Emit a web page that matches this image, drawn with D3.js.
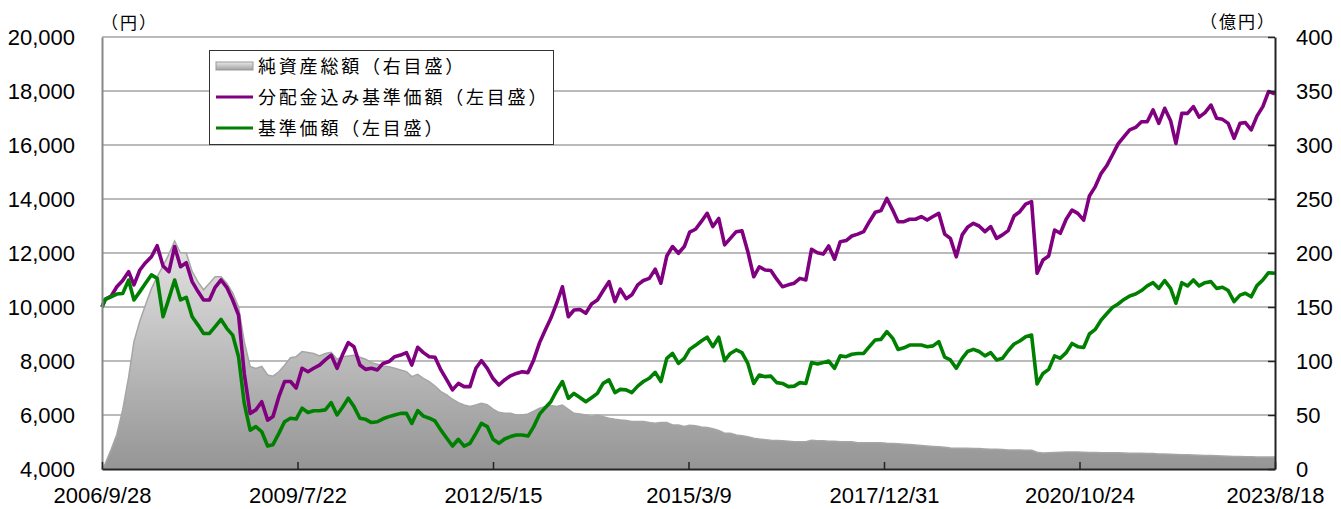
<!DOCTYPE html>
<meta charset="utf-8">
<head>
<style>
  body { margin: 0; background: #fff; }
  .num { font-family: "Liberation Sans", Arial, sans-serif; font-size: 22px; fill: #000; }
  .jp { font-family: "Noto Sans CJK JP", sans-serif; fill: #000; }
</style>
</head>
<body>
<div id="chart"></div>
<script src="https://d3js.org/d3.v7.min.js"></script>
<script>
// first and last day of the series; in between one reading per month (mid-month)
const startDate = "2006-09-28";
const endDate = "2023-08-18";

// 分配金込み基準価額 (円), rows = years
const navAdj = [
  10000, 10280, 10400, 10750,
  10980, 11310, 10820, 11370, 11640, 11860, 12270, 11520, 11310, 12240, 11490, 11640,
  10940, 10570, 10260, 10260, 10730, 11000, 10730, 10260, 9700, 7540, 6060, 6190,
  6490, 5810, 5940, 6680, 7240, 7240, 7000, 7730, 7600, 7730, 7850, 8040,
  8220, 7730, 8220, 8680, 8530, 7850, 7690, 7730, 7670, 7910, 7980, 8160,
  8220, 8310, 7850, 8510, 8310, 8160, 8140, 7670, 7300, 6930, 7170, 7050,
  7050, 7730, 8010, 7730, 7350, 7110, 7300, 7450, 7540, 7600, 7570, 8040,
  8680, 9170, 9580, 10140, 10750, 9640, 9890, 9910, 9770, 10110, 10260, 10600,
  10940, 10200, 10660, 10310, 10450, 10820, 10980, 11060, 11400, 10880, 11890, 12240,
  11990, 12240, 12770, 12880, 13160, 13470, 12980, 13280, 12300, 12540, 12790, 12820,
  12050, 11120, 11490, 11370, 11350, 11030, 10750, 10820, 10880, 11060, 11000, 12140,
  12010, 11960, 12260, 11770, 12420, 12460, 12630, 12700, 12790, 13160, 13510, 13570,
  14020, 13590, 13160, 13160, 13250, 13250, 13350, 13220, 13350, 13470, 12700, 12540,
  11860, 12670, 12950, 13100, 13000, 12790, 12980, 12540, 12670, 12830, 13370, 13530,
  13810, 13900, 11250, 11740, 11890, 12850, 12730, 13250, 13590, 13470, 13220, 14110,
  14460, 14950, 15220, 15630, 16040, 16310, 16560, 16650, 16860, 16860, 17300, 16800,
  17360, 16900, 16060, 17170, 17170, 17420, 17030, 17200, 17480, 16990, 16950, 16800,
  16250, 16800, 16830, 16560, 17070, 17420, 17980, 17900
];

// 基準価額 (円)
const nav = [
  10000, 10280, 10380, 10480,
  10500, 11000, 10260, 10570, 10880, 11190, 11060, 9640, 10320, 11000, 10260, 10360,
  9640, 9330, 9020, 9020, 9270, 9540, 9210, 8960, 8160, 6430, 5440, 5570,
  5380, 4850, 4900, 5320, 5750, 5880, 5850, 6250, 6090, 6160, 6160, 6190,
  6460, 6000, 6280, 6620, 6310, 5880, 5840, 5720, 5750, 5860, 5940, 6000,
  6060, 6060, 5690, 6160, 5960, 5880, 5780, 5440, 5140, 4850, 5100, 4850,
  4950, 5320, 5690, 5570, 5100, 4950, 5110, 5200, 5260, 5260, 5220, 5570,
  6030, 6280, 6490, 6900, 7240, 6620, 6800, 6650, 6490, 6640, 6800, 7170,
  7300, 6830, 6950, 6930, 6830, 7070, 7240, 7360, 7580, 7240, 8100, 8280,
  7910, 8100, 8430, 8580, 8740, 8880, 8530, 8880, 8010, 8280, 8410, 8310,
  7910, 7170, 7480, 7420, 7440, 7200, 7170, 7050, 7070, 7200, 7170, 7940,
  7890, 7940, 8000, 7730, 8190, 8160, 8250, 8280, 8280, 8530, 8780, 8800,
  9090, 8840, 8430, 8490, 8590, 8590, 8590, 8530, 8560, 8720, 8140, 8040,
  7730, 8100, 8350, 8430, 8350, 8190, 8310, 8040, 8100, 8380, 8630, 8740,
  8900, 8960, 7150, 7540, 7690, 8190, 8100, 8310, 8650, 8530, 8500, 9000,
  9170, 9520, 9740, 9980, 10110, 10280, 10410, 10480, 10610, 10780, 10900, 10690,
  10980, 10690, 10140, 10900, 10780, 11000, 10780, 10900, 10940, 10690, 10730, 10610,
  10200, 10440, 10510, 10380, 10790, 11000, 11270, 11250
];

// 純資産総額 (億円)
const assets = [
  0, 5, 18, 32,
  55, 85, 118, 137, 152, 167, 178, 188, 199, 211, 200, 200,
  183, 173, 166, 172, 178, 178, 172, 163, 150, 118, 95, 93,
  95, 87, 86, 90, 96, 103, 104, 108.7, 107.8, 107, 104.7, 107,
  108, 101.6, 104, 104.7, 105.3, 103.4, 101.6, 98.5, 97, 95.4, 94.8, 93.3,
  91.7, 90.2, 85.5, 87.7, 84, 80.9, 76.9, 71.7, 68.6, 64.6, 61.5, 59.3,
  57.8, 59.3, 60.9, 59.6, 55.5, 52.5, 51.6, 51.6, 50, 50, 51, 53.5,
  56.2, 57.8, 58.7, 57.8, 59.3, 55.3, 51.6, 51, 50, 48.5, 50, 48.5,
  47, 46, 45.4, 44.8, 43.9, 43.9, 43.9, 43, 42.4, 43, 43, 40.8,
  40.8, 39.3, 40.4, 40, 39, 38.5, 37.3, 35.6, 33.1, 33.1, 31.5, 30.9,
  29.9, 28.4, 27.7, 27.2, 26.7, 26.5, 26.1, 25.8, 25.3, 25.3, 25.3, 26.7,
  26.1, 26.1, 25.8, 25.8, 25.3, 25.3, 25.3, 24.4, 24.4, 24.4, 24.4, 24.4,
  23.8, 23.6, 23.3, 23.0, 22.6, 22.3, 21.8, 21.3, 20.9, 20.6, 20.2, 19.5,
  19.2, 19.2, 19.2, 19.0, 18.9, 18.6, 18.4, 18.3, 18.0, 17.7, 17.7, 17.5,
  17.4, 17.3, 15.5, 14.8, 15.0, 15.3, 15.5, 15.7, 15.8, 15.8, 15.5, 15.3,
  15.2, 15.1, 15.0, 15.0, 15.0, 14.8, 14.6, 14.5, 14.5, 14.3, 14.3, 14.0,
  13.8, 13.6, 13.5, 13.3, 13.1, 13.0, 12.8, 12.6, 12.4, 12.2, 12.0, 11.8,
  11.6, 11.5, 11.4, 11.3, 11.2, 11.1, 11.0, 11.0
];

const xTickLabels = ["2006/9/28", "2009/7/22", "2012/5/15", "2015/3/9", "2017/12/31", "2020/10/24", "2023/8/18"];
const yLeftTicks = [4000, 6000, 8000, 10000, 12000, 14000, 16000, 18000, 20000];
const yRightTicks = [0, 50, 100, 150, 200, 250, 300, 350, 400];
const legendNames = ["純資産総額（右目盛）", "分配金込み基準価額（左目盛）", "基準価額（左目盛）"];

const parse = d3.timeParse("%Y-%m-%d");
const parseTick = d3.timeParse("%Y/%m/%d");

const dates = [parse(startDate)]
  .concat(d3.timeMonth.range(parse("2006-10-01"), parse("2023-08-01")).map(d => d3.timeDay.offset(d, 14)))
  .concat([parse(endDate)]);

const data = dates.map((d, i) => ({date: d, adj: navAdj[i], nav: nav[i], aum: assets[i]}));

const W = 1341, H = 509;
const plotL = 102, plotR = 1275, plotT = 37, plotB = 469;

const svg = d3.select("#chart").append("svg")
  .attr("width", W).attr("height", H);

const defs = svg.append("defs");
const grad = defs.append("linearGradient")
  .attr("id", "aumFill")
  .attr("gradientUnits", "userSpaceOnUse")
  .attr("x1", 0).attr("x2", 0).attr("y1", 240).attr("y2", plotB);
grad.append("stop").attr("offset", "0%").attr("stop-color", "#e4e4e4");
grad.append("stop").attr("offset", "100%").attr("stop-color", "#959595");

const grad2 = defs.append("linearGradient")
  .attr("id", "swatchFill")
  .attr("x1", 0).attr("x2", 0).attr("y1", 0).attr("y2", 1);
grad2.append("stop").attr("offset", "0%").attr("stop-color", "#e8e8e8");
grad2.append("stop").attr("offset", "100%").attr("stop-color", "#a0a0a0");

const x = d3.scaleTime().domain([parse(startDate), parse(endDate)]).range([plotL, plotR]);
const yL = d3.scaleLinear().domain([4000, 20000]).range([plotB, plotT]);
const yR = d3.scaleLinear().domain([0, 400]).range([plotB, plotT]);

// gridlines
svg.append("g").selectAll("line")
  .data(yLeftTicks.slice(1))
  .join("line")
    .attr("x1", plotL).attr("x2", plotR)
    .attr("y1", d => yL(d)).attr("y2", d => yL(d))
    .attr("stroke", "#a3a3a3")
    .attr("stroke-width", 1.5);

// net assets area (right scale)
svg.append("path")
  .datum(data)
  .attr("fill", "url(#aumFill)")
  .attr("stroke", "#a6a6a6")
  .attr("stroke-width", 1.5)
  .attr("d", d3.area()
    .x(d => x(d.date))
    .y0(plotB)
    .y1(d => yR(d.aum)));

// lines (left scale)
const lineAdj = d3.line().x(d => x(d.date)).y(d => yL(d.adj));
const lineNav = d3.line().x(d => x(d.date)).y(d => yL(d.nav));

svg.append("path")
  .datum(data)
  .attr("fill", "none")
  .attr("stroke", "#800080")
  .attr("stroke-width", 3.6)
  .attr("stroke-linejoin", "round")
  .attr("d", lineAdj);

svg.append("path")
  .datum(data)
  .attr("fill", "none")
  .attr("stroke", "#008000")
  .attr("stroke-width", 3.6)
  .attr("stroke-linejoin", "round")
  .attr("d", lineNav);

// left axis
const gL = svg.append("g")
  .attr("transform", `translate(${plotL},0)`)
  .call(d3.axisLeft(yL).tickValues(yLeftTicks).tickSize(0).tickPadding(27).tickFormat(d3.format(",")));
gL.select(".domain").attr("stroke", "#888").attr("stroke-width", 2);
gL.selectAll("text").attr("class", "num");
gL.attr("font-size", null).attr("font-family", null);

// right axis
const gR = svg.append("g")
  .attr("transform", `translate(${plotR},0)`)
  .call(d3.axisRight(yR).tickValues(yRightTicks).tickSizeInner(-7).tickSizeOuter(0).tickPadding(21));
gR.select(".domain").attr("stroke", "#222").attr("stroke-width", 2);
gR.selectAll(".tick line").attr("stroke", "#222").attr("stroke-width", 1.5);
gR.selectAll("text").attr("class", "num");
gR.attr("font-size", null).attr("font-family", null);

// bottom axis
const gB = svg.append("g")
  .attr("transform", `translate(0,${plotB})`)
  .call(d3.axisBottom(x)
    .tickValues(xTickLabels.map(parseTick))
    .tickSizeInner(-7).tickSizeOuter(0).tickPadding(18)
    .tickFormat((d, i) => xTickLabels[i]));
gB.select(".domain").attr("stroke", "#222").attr("stroke-width", 2);
gB.selectAll(".tick line").attr("stroke", "#222").attr("stroke-width", 1.5);
gB.selectAll("text").attr("class", "num");
gB.attr("font-size", null).attr("font-family", null);

// unit labels
svg.append("text").attr("class", "jp")
  .attr("x", 101).attr("y", 29).attr("font-size", 17)
  .attr("letter-spacing", 2)
  .text("（円）");
svg.append("text").attr("class", "jp")
  .attr("x", 1276).attr("y", 28).attr("font-size", 17)
  .attr("letter-spacing", 2)
  .attr("text-anchor", "end")
  .text("（億円）");

// legend
const lg = svg.append("g");
lg.append("rect")
  .attr("x", 209.5).attr("y", 50.5).attr("width", 344).attr("height", 94)
  .attr("fill", "#fff").attr("stroke", "#333").attr("stroke-width", 1);

const rowY = [66, 97, 128];
lg.append("rect")
  .attr("x", 216).attr("y", rowY[0] - 4).attr("width", 37).attr("height", 8)
  .attr("fill", "url(#swatchFill)").attr("stroke", "#999").attr("stroke-width", 1);
lg.append("line")
  .attr("x1", 216).attr("x2", 253).attr("y1", rowY[1]).attr("y2", rowY[1])
  .attr("stroke", "#800080").attr("stroke-width", 3);
lg.append("line")
  .attr("x1", 216).attr("x2", 253).attr("y1", rowY[2]).attr("y2", rowY[2])
  .attr("stroke", "#008000").attr("stroke-width", 3);

lg.selectAll("text.leg")
  .data(legendNames)
  .join("text")
    .attr("class", "jp leg")
    .attr("x", 258)
    .attr("y", (d, i) => rowY[i] + 7)
    .attr("font-size", 18)
    .attr("letter-spacing", 2.8)
    .text(d => d);
</script>
</body>
